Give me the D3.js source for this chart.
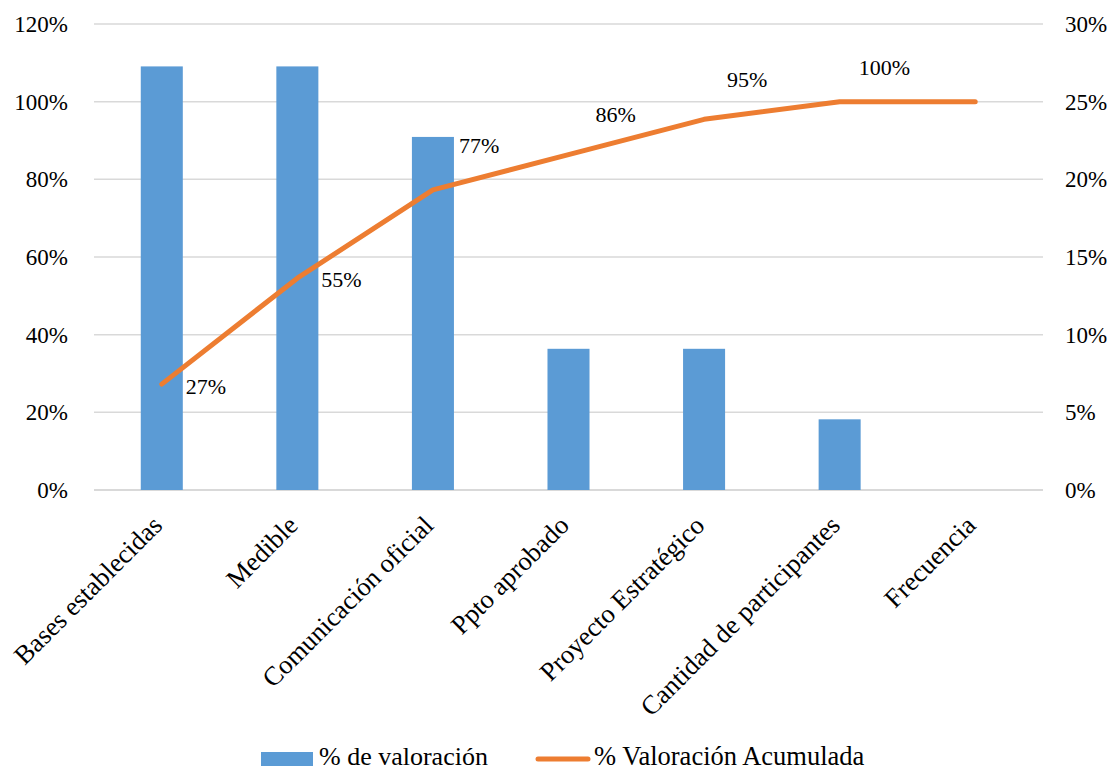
<!DOCTYPE html>
<html>
<head>
<meta charset="utf-8">
<script src="https://cdn.jsdelivr.net/npm/d3@7"></script>
<style>
  body { margin: 0; background: #fff; }
  svg text { font-family: "Liberation Serif", "Times New Roman", Times, serif !important; fill: #000; }
</style>
</head>
<body>
<script>
// categorías y series
const categories = ["Bases establecidas", "Medible", "Comunicación oficial",
  "Ppto aprobado", "Proyecto Estratégico", "Cantidad de participantes", "Frecuencia"];
const valoracion = [27.27, 27.27, 22.73, 9.09, 9.09, 4.55, 0];        // eje derecho
const acumulada = [27.27, 54.55, 77.27, 86.36, 95.45, 100, 100];      // eje izquierdo
const leftTicks = [0, 20, 40, 60, 80, 100, 120];
const rightTicks = [0, 5, 10, 15, 20, 25, 30];
const seriesNames = ["% de valoración", "% Valoración Acumulada"];

// desplazamiento de las etiquetas de la línea
const labelNudge = [[24, 2], [24, 1], [26, -45], [27, -40], [23, -40], [19, -34]];

const w = 1119, h = 771;
const margin = { top: 24, right: 76, bottom: 281, left: 94 };

const svg = d3.select("body").append("svg")
  .attr("width", w)
  .attr("height", h);

const x = d3.scaleBand()
  .domain(categories)
  .range([margin.left, w - margin.right]);

const yL = d3.scaleLinear().domain([0, 120]).range([h - margin.bottom, margin.top]);
const yR = d3.scaleLinear().domain([0, 30]).range([h - margin.bottom, margin.top]);

// líneas de cuadrícula
svg.append("g")
  .selectAll("line")
  .data(leftTicks)
  .enter()
  .append("line")
  .attr("x1", margin.left)
  .attr("x2", w - margin.right)
  .attr("y1", d => yL(d))
  .attr("y2", d => yL(d))
  .attr("stroke", "#d9d9d9")
  .attr("stroke-width", d => d === 0 ? 2 : 1.5);

// ejes
const axisL = svg.append("g")
  .attr("transform", `translate(${margin.left},0)`)
  .call(d3.axisLeft(yL).tickValues(leftTicks).tickFormat(d => d + "%").tickSize(0).tickPadding(26));
axisL.select(".domain").remove();

const axisR = svg.append("g")
  .attr("transform", `translate(${w - margin.right},0)`)
  .call(d3.axisRight(yR).tickValues(rightTicks).tickFormat(d => d + "%").tickSize(0).tickPadding(22));
axisR.select(".domain").remove();

svg.selectAll(".tick text")
  .style("font-size", "23px");

// barras
const bw = x.bandwidth() * 0.31;
svg.append("g")
  .selectAll("rect")
  .data(valoracion)
  .enter()
  .append("rect")
  .attr("x", (d, i) => x(categories[i]) + x.bandwidth() / 2 - bw / 2)
  .attr("y", d => yR(d))
  .attr("width", bw)
  .attr("height", d => yR(0) - yR(d))
  .attr("fill", "#5b9bd5");

// línea acumulada
const line = d3.line()
  .x((d, i) => x(categories[i]) + x.bandwidth() / 2)
  .y(d => yL(d));

svg.append("path")
  .datum(acumulada)
  .attr("d", line)
  .attr("fill", "none")
  .attr("stroke", "#ed7d31")
  .attr("stroke-width", 5)
  .attr("stroke-linecap", "round")
  .attr("stroke-linejoin", "round");

// etiquetas de datos
svg.append("g")
  .selectAll("text")
  .data(acumulada.slice(0, 6))
  .enter()
  .append("text")
  .attr("x", (d, i) => x(categories[i]) + x.bandwidth() / 2 + labelNudge[i][0])
  .attr("y", (d, i) => yL(d) + labelNudge[i][1])
  .attr("dy", "0.35em")
  .style("font-size", "22px")
  .text(d => Math.round(d) + "%");

// etiquetas de categorías giradas
svg.append("g")
  .selectAll("text")
  .data(categories)
  .enter()
  .append("text")
  .attr("transform", d => `translate(${x(d) + x.bandwidth() / 2 + 2},${h - margin.bottom + 37}) rotate(-45)`)
  .attr("text-anchor", "end")
  .style("font-size", "26.5px")
  .text(d => d);

// leyenda
const lg = svg.append("g").attr("transform", "translate(0, 759)");
lg.append("rect")
  .attr("x", 261).attr("y", -7)
  .attr("width", 52).attr("height", 14)
  .attr("fill", "#5b9bd5");
lg.append("text")
  .attr("x", 319).attr("y", 6)
  .style("font-size", "26px")
  .text(seriesNames[0]);
lg.append("line")
  .attr("x1", 538).attr("x2", 588)
  .attr("y1", 0).attr("y2", 0)
  .attr("stroke", "#ed7d31")
  .attr("stroke-width", 5)
  .attr("stroke-linecap", "round");
lg.append("text")
  .attr("x", 594).attr("y", 6)
  .style("font-size", "26.5px")
  .text(seriesNames[1]);
</script>
</body>
</html>
